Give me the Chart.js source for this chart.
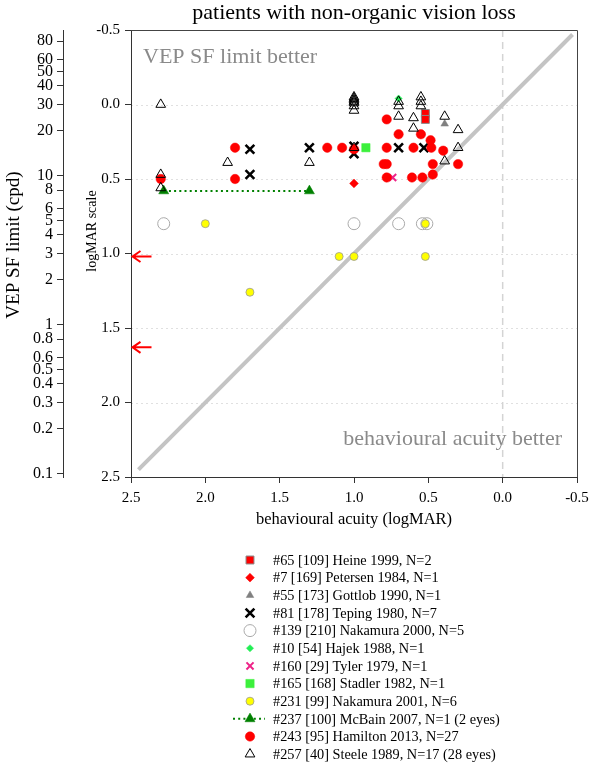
<!DOCTYPE html>
<html><head><meta charset="utf-8">
<script src="https://cdn.jsdelivr.net/npm/chart.js@4.4.0/dist/chart.umd.min.js"></script>
<style>html,body{margin:0;padding:0;background:#fff;}#wrap{width:590px;height:775px;}</style>
</head><body><div id="wrap"><canvas id="c" width="590" height="775"></canvas></div>
<script>
// ---- tick labels ----
const logmarTicks = [-0.5, 0.0, 0.5, 1.0, 1.5, 2.0, 2.5];
const cpdTicks = [0.1,0.2,0.3,0.4,0.5,0.6,0.8,1,2,3,4,5,6,8,10,20,30,40,50,60,80];

// ---- series: [behavioural acuity logMAR, VEP logMAR] ----
const heine        = [[0.52,0.06],[0.52,0.10]];
const petersen     = [[1.0,0.53]];
const gottlob      = [[0.39,0.13]];
const teping       = [[1.7,0.30],[1.7,0.47],[1.3,0.29],[1.0,0.28],[1.0,0.33],[0.7,0.29],[0.53,0.29]];
const nakamura2000 = [[2.28,0.80],[1.0,0.80],[0.7,0.80],[0.54,0.80],[0.51,0.80]];
const hajek        = [[0.7,-0.04]];
const tyler        = [[0.74,0.49]];
const stadler      = [[0.92,0.29]];
const nakamura2001 = [[2.0,0.80],[1.7,1.26],[1.1,1.02],[1.0,1.02],[0.52,0.80],[0.52,1.02]];
const mcbain       = [[2.28,0.58],[1.3,0.58]];
const hamilton     = [[2.3,0.50],[1.8,0.29],[1.8,0.50],[1.18,0.29],[1.08,0.29],[1.0,0.30],[0.78,0.10],[0.7,0.20],[0.55,0.20],[0.485,0.24],[0.78,0.29],[0.6,0.29],[0.48,0.29],[0.4,0.31],[0.8,0.40],[0.78,0.40],[0.47,0.40],[0.3,0.40],[0.78,0.49],[0.61,0.49],[0.54,0.49],[0.47,0.47]];
const steele       = [[2.3,0.0],[2.3,0.47],[2.3,0.56],[1.85,0.39],[1.3,0.39],[1.0,-0.05],[1.0,-0.04],[1.0,-0.03],[1.0,-0.02],[1.0,-0.01],[1.0,0.01],[1.0,0.04],[1.0,0.29],[0.7,-0.02],[0.7,0.01],[0.7,0.08],[0.55,-0.05],[0.55,-0.02],[0.55,0.01],[0.6,0.09],[0.6,0.16],[0.39,0.08],[0.3,0.17],[0.3,0.29],[0.39,0.38]];
const identityLine = [[2.45,2.45],[-0.47,-0.47]];
const zeroLine     = [[0.0,-0.5],[0.0,2.5]];
const arrowLogMAR  = [1.02, 1.63];

const labels = ['#65 [109] Heine 1999, N=2','#7 [169] Petersen 1984, N=1','#55 [173] Gottlob 1990, N=1','#81 [178] Teping 1980, N=7','#139 [210] Nakamura 2000, N=5','#10 [54] Hajek 1988, N=1','#160 [29] Tyler 1979, N=1','#165 [168] Stadler 1982, N=1','#231 [99] Nakamura 2001, N=6','#237 [100] McBain 2007, N=1 (2 eyes)','#243 [95] Hamilton 2013, N=27','#257 [40] Steele 1989, N=17 (28 eyes)'];

const F = '"Liberation Serif","Times New Roman",serif';
const toXY = arr => arr.map(p => ({x:p[0], y:p[1]}));

const styles = [
  {data:heine, pointStyle:'rect', r:5.6, bg:'#ff0000', bc:'#888888', bw:1},
  {data:petersen, pointStyle:'rectRot', r:4.4, bg:'#ff0000', bc:'#ff0000', bw:0.5},
  {data:gottlob, pointStyle:'triangle', r:4.4, bg:'#808080', bc:'#808080', bw:0.5},
  {data:teping, pointStyle:'crossRot', r:6.2, bg:'#000', bc:'#000', bw:2.6},
  {data:nakamura2000, pointStyle:'circle', r:6, bg:'rgba(0,0,0,0)', bc:'#aaaaaa', bw:1},
  {data:hajek, pointStyle:'rectRot', r:3.6, bg:'#22ee55', bc:'#22ee55', bw:0.5},
  {data:tyler, pointStyle:'crossRot', r:5, bg:'#ee2288', bc:'#ee2288', bw:2},
  {data:stadler, pointStyle:'rect', r:5.9, bg:'#3cf03c', bc:'#3cf03c', bw:0.5},
  {data:nakamura2001, pointStyle:'circle', r:4, bg:'#ffff00', bc:'#999999', bw:0.8},
  {data:mcbain, pointStyle:'triangle', r:5.8, bg:'#008000', bc:'#008000', bw:0.5, line:true},
  {data:hamilton, pointStyle:'circle', r:4.7, bg:'#ff0000', bc:'#ff0000', bw:0.5},
  {data:steele, pointStyle:'triangle', r:5.6, bg:'rgba(0,0,0,0)', bc:'#000000', bw:1},
];

const n = styles.length;
const datasets = styles.map((s, i) => ({
  label: labels[i],
  data: toXY(s.data),
  pointStyle: s.pointStyle, pointRadius: s.r, pointHoverRadius: s.r,
  backgroundColor: s.bg, borderColor: s.bc, pointBorderWidth: s.bw, borderWidth: s.line ? 2 : s.bw,
  pointBackgroundColor: s.bg, pointBorderColor: s.bc,
  showLine: !!s.line, borderDash: s.line ? [2,3.2] : [],
  order: n - i
}));
datasets.push({label:'identity', data:toXY(identityLine), showLine:true, pointRadius:0, borderColor:'#c4c4c4', borderWidth:4, order:100});
datasets.push({label:'zero', data:toXY(zeroLine), showLine:true, pointRadius:0, borderColor:'#d4d4d4', borderWidth:1.5, borderDash:[7,5], order:101});

const deco = {
  id:'deco',
  beforeDatasetsDraw(chart){
    const {ctx, chartArea:a, scales:{y}} = chart;
    ctx.save(); ctx.strokeStyle='rgba(0,0,0,0.12)'; ctx.lineWidth=1; ctx.setLineDash([2,3]);
    logmarTicks.slice(1,-1).forEach(v => {
      const py = Math.round(y.getPixelForValue(v)) + 0.5;
      ctx.beginPath(); ctx.moveTo(a.left, py); ctx.lineTo(a.right, py); ctx.stroke();
    });
    ctx.restore();
  },
  afterDraw(chart){
    const {ctx, chartArea:a, scales:{x, y}} = chart;
    ctx.save();
    // frame top/right
    ctx.strokeStyle='#444'; ctx.lineWidth=1; ctx.setLineDash([]);
    ctx.beginPath(); ctx.moveTo(a.left, a.top+0.5); ctx.lineTo(a.right+0.5, a.top+0.5); ctx.lineTo(a.right+0.5, a.bottom); ctx.stroke();
    // vertical axis titles
    ctx.fillStyle='#000'; ctx.textAlign='center'; ctx.textBaseline='middle';
    ctx.save(); ctx.translate(14, 245); ctx.rotate(-Math.PI/2); ctx.font='19px '+F; ctx.fillText('VEP SF limit (cpd)', 0, 0); ctx.restore();
    ctx.save(); ctx.translate(92, 231); ctx.rotate(-Math.PI/2); ctx.font='14px '+F; ctx.fillText('logMAR scale', 0, 0); ctx.restore();
    // annotations
    ctx.fillStyle='#8a8a8a'; ctx.font='22px '+F; ctx.textBaseline='alphabetic';
    ctx.textAlign='left'; ctx.fillText('VEP SF limit better', a.left+12, a.top+33);
    ctx.textAlign='right'; ctx.fillText('behavioural acuity better', a.right-15, a.bottom-32);
    // arrows
    ctx.strokeStyle='#ff0000'; ctx.lineWidth=2;
    arrowLogMAR.forEach(v => {
      const py = y.getPixelForValue(v), tip = x.getPixelForValue(2.5) + 1.5;
      ctx.beginPath(); ctx.moveTo(tip, py); ctx.lineTo(tip+19, py);
      ctx.moveTo(tip+8, py-5.5); ctx.lineTo(tip, py); ctx.lineTo(tip+8, py+5.5); ctx.stroke();
    });
    // legend
    const lx = 250, tx = 273, y0 = 560, dy = 17.65;
    ctx.font='14.3px '+F; ctx.textAlign='left'; ctx.textBaseline='middle';
    styles.forEach((s, i) => {
      const py = y0 + i*dy;
      if (s.line) {
        ctx.save(); ctx.strokeStyle=s.bc; ctx.lineWidth=2; ctx.setLineDash([2,3.2]);
        ctx.beginPath(); ctx.moveTo(lx-17, py); ctx.lineTo(lx+15, py); ctx.stroke(); ctx.restore();
      }
      ctx.save(); ctx.setLineDash([]);
      ctx.fillStyle=s.bg; ctx.strokeStyle=s.bc; ctx.lineWidth=s.bw;
      Chart.helpers.drawPoint(ctx, {pointStyle:s.pointStyle, radius:s.r, rotation:0, borderWidth:s.bw}, lx, py);
      ctx.restore();
      ctx.fillStyle='#000'; ctx.fillText(labels[i], tx, py+1);
    });
    ctx.restore();
  }
};

const tickFont = {family:F, size:15};
new Chart(document.getElementById('c'), {
  type:'scatter',
  data:{datasets},
  options:{
    responsive:false, animation:false, devicePixelRatio:1,
    layout:{padding:{left:0, right:13, top:0, bottom:238}},
    plugins:{
      legend:{display:false}, tooltip:{enabled:false},
      title:{display:true, text:'patients with non-organic vision loss', fullSize:false, color:'#000',
        font:{family:F, size:22, weight:'normal', lineHeight:1.2}, padding:{top:0, bottom:3.6}}
    },
    scales:{
      x:{type:'linear', position:'bottom', min:-0.5, max:2.5, reverse:true,
        afterBuildTicks:s=>{ s.ticks = logmarTicks.map(v=>({value:v})); },
        ticks:{callback:v=>Number(v).toFixed(1), font:tickFont, color:'#000', padding:6, maxRotation:0, autoSkip:false},
        grid:{display:true, drawOnChartArea:false, drawTicks:true, tickLength:6, tickColor:'#333'},
        border:{display:true, color:'#333', width:1},
        title:{display:true, text:'behavioural acuity (logMAR)', color:'#000', font:{family:F, size:16.5}, padding:{top:0, bottom:7}},
        afterFit:s=>{ s.height = 60; }
      },
      y:{type:'linear', position:'left', weight:0, min:-0.5, max:2.5, reverse:true,
        afterBuildTicks:s=>{ s.ticks = logmarTicks.map(v=>({value:v})); },
        ticks:{callback:v=>Number(v).toFixed(1), font:tickFont, color:'#000', padding:5, autoSkip:false},
        grid:{display:true, drawOnChartArea:false, drawTicks:true, tickLength:6, tickColor:'#333'},
        border:{display:true, color:'#333', width:1},
        title:{display:false, text:'logMAR scale'},
        afterFit:s=>{ s.width = 68; }
      },
      vep:{type:'logarithmic', position:'left', weight:10, bounds:'data',
        min:30*Math.pow(10,-2.5), max:30*Math.pow(10,0.5),
        afterBuildTicks:s=>{ s.ticks = cpdTicks.map(v=>({value:v})); },
        ticks:{callback:v=>String(v), font:{family:F, size:16}, color:'#000', padding:4, autoSkip:false},
        grid:{display:true, drawOnChartArea:false, drawTicks:true, tickLength:6, tickColor:'#333'},
        border:{display:true, color:'#333', width:1},
        title:{display:false, text:'VEP SF limit (cpd)'},
        afterFit:s=>{ s.width = 63; }
      }
    }
  },
  plugins:[deco]
});
</script></body></html>
